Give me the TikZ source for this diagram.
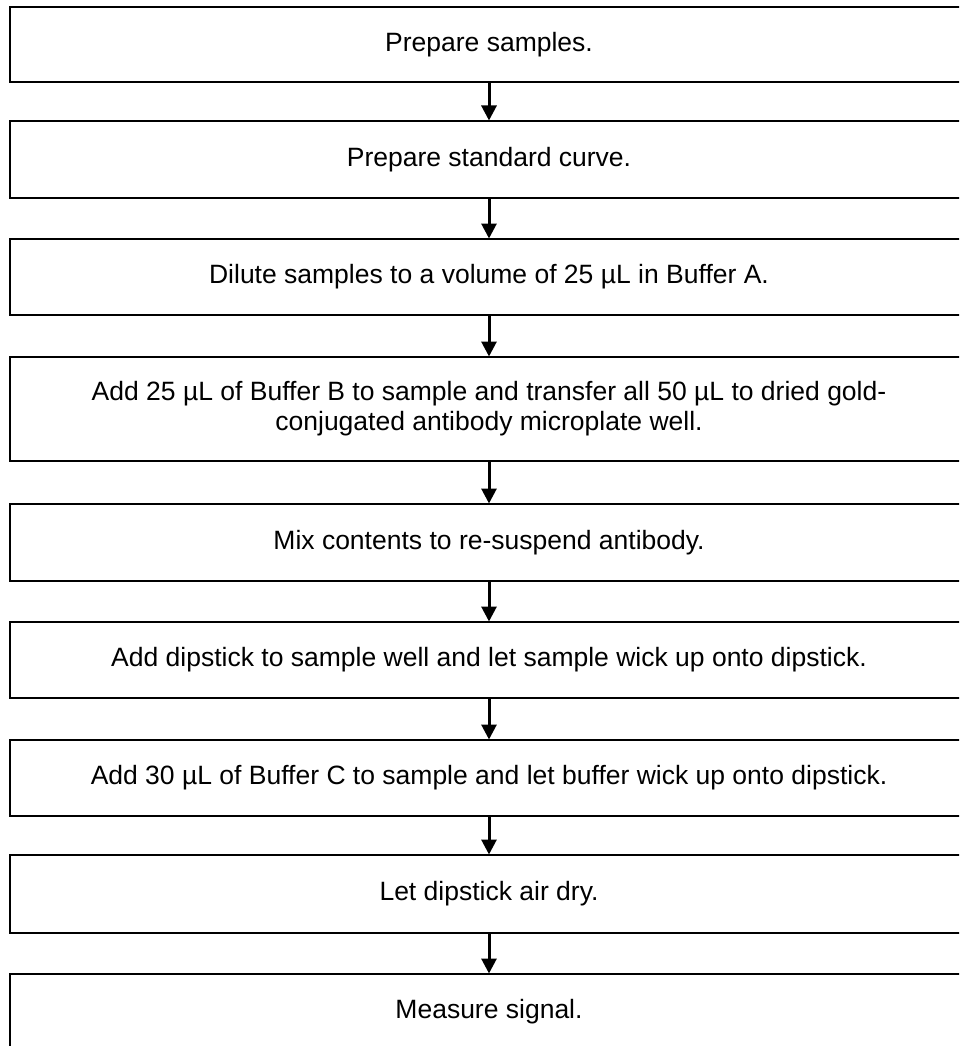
\documentclass[tikz,border=0pt]{standalone}
\usepackage{fontspec}
\setmainfont{Liberation Sans}
\usetikzlibrary{arrows.meta}
\begin{document}
\begin{tikzpicture}[x=1pt,y=-1pt,
  stepbox/.style={draw=black, line width=2pt, rectangle, minimum width=958pt, inner sep=0pt,
    align=center, font=\fontsize{26.5pt}{30pt}\selectfont},
  flow/.style={line width=3pt, -{Triangle[width=15pt,length=15pt]}, shorten >=-0.5pt}]
\useasboundingbox (0,0) rectangle (959,1046);
\clip (0,0) rectangle (959,1046);
\node[stepbox, minimum height=75pt] (b1) at (489,44.5) {Prepare samples.};
\node[stepbox, minimum height=77pt] (b2) at (489,159.5) {Prepare standard curve.};
\node[stepbox, minimum height=76pt] (b3) at (489,277) {Dilute samples to a volume of 25 µL in Buffer A.};
\node[stepbox, minimum height=104pt] (b4) at (489,409) {Add 25 µL of Buffer B to sample and transfer all 50 µL to dried gold-\\conjugated antibody microplate well.};
\node[stepbox, minimum height=77pt] (b5) at (489,542.5) {Mix contents to re-suspend antibody.};
\node[stepbox, minimum height=76pt] (b6) at (489,660) {Add dipstick to sample well and let sample wick up onto dipstick.};
\node[stepbox, minimum height=76pt] (b7) at (489,778) {Add 30 µL of Buffer C to sample and let buffer wick up onto dipstick.};
\node[stepbox, minimum height=78pt] (b8) at (489,894) {Let dipstick air dry.};
\node[stepbox, minimum height=76pt] (b9) at (489,1012) {Measure signal.};
\foreach \a/\b in {b1/b2,b2/b3,b3/b4,b4/b5,b5/b6,b6/b7,b7/b8,b8/b9}
  \draw[flow] (\a.south) -- (\b.north);
\end{tikzpicture}
\end{document}
